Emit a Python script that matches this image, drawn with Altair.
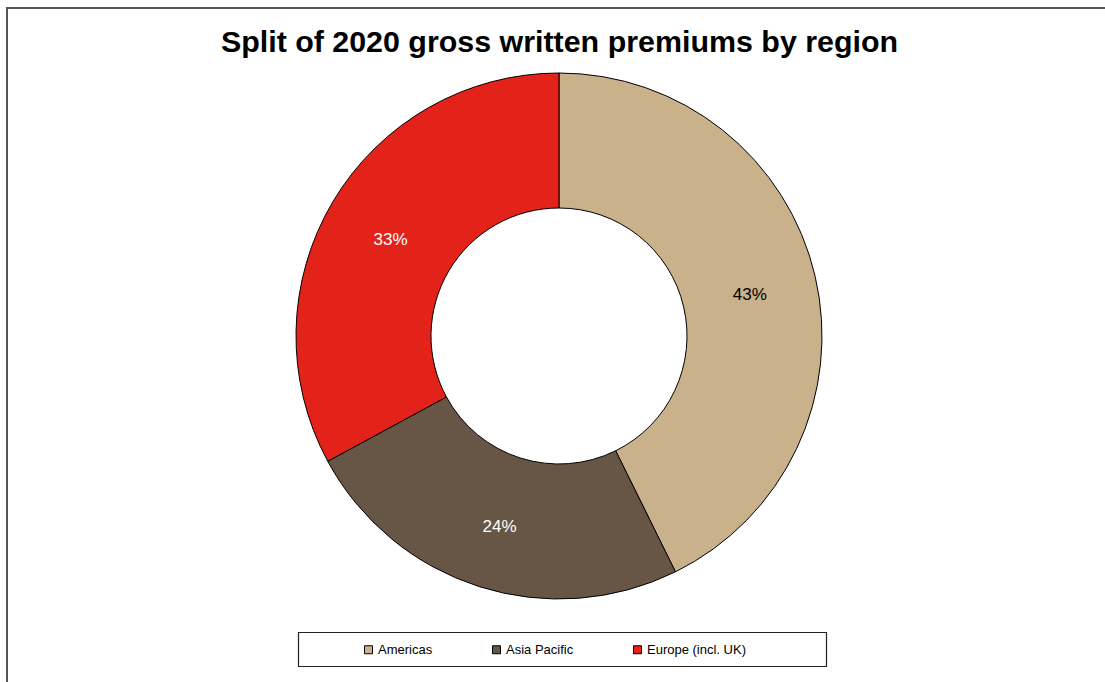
import altair as alt
import pandas as pd

regions = ["Americas", "Asia Pacific", "Europe (incl. UK)"]
shares = [42.7, 24.4, 32.9]
labels = ["43%", "24%", "33%"]
colors = ["#C8B18B", "#675646", "#E3231A"]

df = pd.DataFrame({"region": regions, "share": shares, "label": labels, "ord": list(range(len(regions)))})

FONT = "Liberation Sans"
CX, CY = 559, 336

base = alt.Chart(df).encode(
    theta=alt.Theta("share:Q", stack=True),
    order=alt.Order("ord:Q", sort="ascending"),
)

arcs = base.mark_arc(
    outerRadius=263, innerRadius=128, stroke="black", strokeWidth=1
).encode(
    x=alt.value(CX),
    y=alt.value(CY),
    color=alt.Color(
        "region:N",
        scale=alt.Scale(domain=regions, range=colors),
        sort=regions,
        legend=alt.Legend(
            orient="none",
            legendX=362,
            legendY=643,
            direction="horizontal",
            title=None,
            symbolType="square",
            symbolSize=64,
            symbolStrokeColor="black",
            symbolStrokeWidth=1,
            labelFont=FONT,
            labelFontSize=13,
            labelColor="black",
            labelOffset=3,
            columnPadding=57,
            padding=0,
        ),
    ),
)

texts = base.mark_text(radius=196, font=FONT, fontSize=17, dy=4).encode(
    x=alt.value(CX),
    y=alt.value(CY),
    detail="region:N",
    text="label:N",
    color=alt.condition("datum.region == 'Americas'", alt.value("black"), alt.value("white")),
)

one = alt.Data(values=[{}])

border = alt.Chart(one).mark_rect(fill=None, stroke="#555555", strokeWidth=2).encode(
    x=alt.value(7), x2=alt.value(1300), y=alt.value(8), y2=alt.value(900)
)

legend_box = alt.Chart(one).mark_rect(fill="white", stroke="#222222", strokeWidth=1.2).encode(
    x=alt.value(298.5), x2=alt.value(826.5), y=alt.value(632.5), y2=alt.value(666.5)
)

chart = alt.layer(border, legend_box, arcs, texts).properties(
    width=1105,
    height=682,
    padding=0,
    autosize=alt.AutoSizeParams(type="none"),
    title=alt.TitleParams(
        "Split of 2020 gross written premiums by region",
        font=FONT,
        fontSize=30.4,
        fontWeight="bold",
        color="black",
        anchor="middle",
        frame="group",
        orient="top",
        baseline="alphabetic",
        offset=-52,
        dx=7,
        dy=30,
    ),
).configure_view(strokeWidth=0)

chart.save("out.html", embed_options={"renderer": "svg", "actions": False})
